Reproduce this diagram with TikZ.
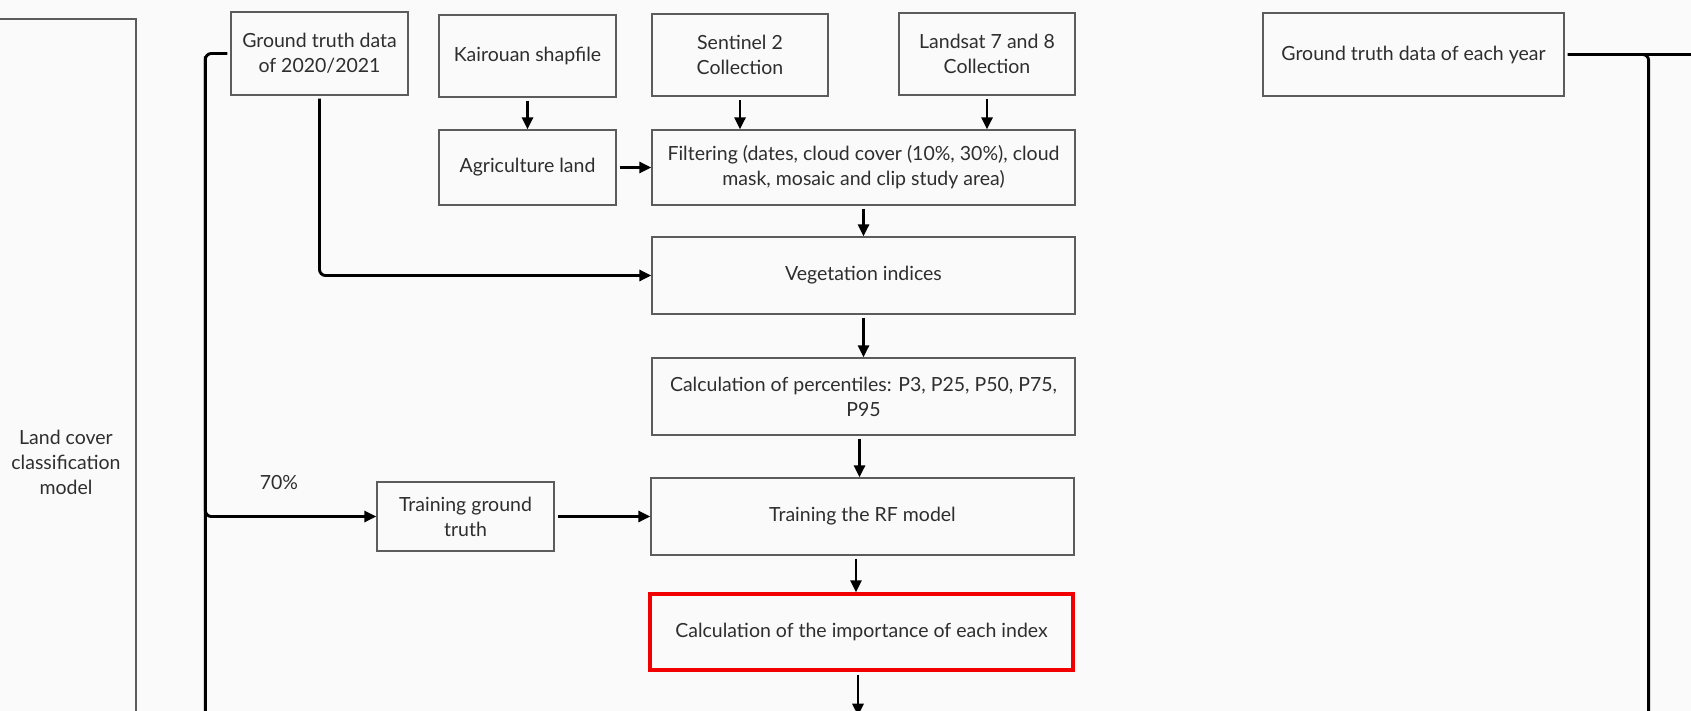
\documentclass[tikz,border=0pt]{standalone}
\usepackage{fontspec}
\setmainfont{Lato}
\usetikzlibrary{arrows.meta}
\usetikzlibrary{positioning}
\usetikzlibrary{calc}
\definecolor{bggray}{HTML}{FAFAFA}
\definecolor{boxgray}{HTML}{5C5C5C}
\definecolor{txtgray}{HTML}{2E2E2E}
\definecolor{hlred}{HTML}{F00000}

\begin{document}
\begin{tikzpicture}[x=1pt,y=-1pt,
    box/.style={draw=boxgray, line width=1.3pt, text=txtgray, align=center, inner sep=0pt,
      font=\fontsize{19.5}{25}\selectfont},
    smallbox/.style={box, minimum width=177pt, minimum height=82pt},
    widebox/.style={box, minimum width=423pt, minimum height=77pt},
    redbox/.style={widebox, draw=hlred, line width=3.4pt},
    flow/.style={line width=2.9pt, rounded corners=6pt, shorten <=3pt,
      -{Triangle[length=12pt,width=11pt]}},
    bus/.style={line width=2.9pt, rounded corners=6pt}]
  \useasboundingbox (0,0) rectangle (1691,711);
  \fill[bggray] (0,0) rectangle (1691,711);
  \clip (0,0) rectangle (1691,711);

  %left column
  \node[box, minimum width=140pt, minimum height=886pt] (model) at (66,462) {Land cover\\classification\\model};

  %inputs
  \node[smallbox, minimum height=83pt] (gtdata) at (319.5,53.5) {Ground truth data\\of 2020/2021};
  \node[smallbox] (shape) at (527.5,56) {Kairouan shapfile};
  \node[smallbox, minimum width=176pt] (sentinel) at (740,55) {Sentinel 2\\Collection};
  \node[smallbox, minimum width=176pt] (landsat) at (987,54) {Landsat 7 and 8\\Collection};
  \node[smallbox, minimum width=301pt, minimum height=83pt] (gtyear) at (1413.5,54.5) {Ground truth data of each year};

  %processing chain
  \node[smallbox, minimum height=75pt] (agri) at (527.5,167.5) {Agriculture land};
  \node[widebox, minimum height=75pt] (filter) at (863.5,167.5) {Filtering (dates, cloud cover (10\%, 30\%), cloud\\mask, mosaic and clip study area)};
  \node[widebox] (vegind) at (863.5,275.5) {Vegetation indices};
  \node[widebox] (pctl) at (863.5,396.5) {Calculation of percentiles: P3, P25, P50, P75,\\P95};
  \node[widebox] (trainrf) at (862.5,516.5) {Training the RF model};
  \node[smallbox, minimum height=69pt] (traingt) at (465.5,516.5) {Training ground\\truth};
  %highlighted step
  \node[redbox, minimum width=423pt, minimum height=76pt] (importance) at (861.5,632) {Calculation of the importance of each index};

  \coordinate (busL) at ($(gtdata.west)+(-25,0)$);
  \coordinate (busLend) at ($(busL)+(0,700)$);
  \coordinate (busR) at ($(gtyear.east)+(84,0)$);
  \coordinate (busRend) at ($(busR)+(0,700)$);
  \coordinate (rightout) at ($(gtyear.east)+(150,0)$);
  \coordinate (down) at ($(importance.south)+(-3.5,44)$);

  %connectors
  \draw[bus] ([xshift=-3pt]gtdata.west) -- (busL) -- (busLend);
  \draw[flow] (busL) |- (traingt.west) node[pos=0.715, above=22pt, text=txtgray, font=\fontsize{19.5}{25}\selectfont] (split) {70\%};
  \draw[flow] (gtdata.south) |- (vegind.west);
  \draw[flow] (shape.south) -- (agri.north);
  \draw[flow] (sentinel.south) -- (sentinel.south |- filter.north);
  \draw[flow] (landsat.south) -- (landsat.south |- filter.north);
  \draw[flow] (agri.east) -- (filter.west);
  \draw[flow] (filter.south) -- (vegind.north);
  \draw[flow] (vegind.south) -- (pctl.north);
  \draw[flow] ([xshift=-4pt]pctl.south) -- ([xshift=-4pt]pctl.south |- trainrf.north);
  \draw[flow] (traingt.east) -- (trainrf.west);
  \draw[flow] ([xshift=-6.5pt]trainrf.south) -- ([xshift=-6.5pt]trainrf.south |- importance.north);
  \draw[flow] ([xshift=-3.5pt]importance.south) -- (down);
  \draw[bus] ([xshift=3pt]gtyear.east) -- (rightout);
  \draw[bus] ([xshift=3pt]gtyear.east) -- (busR) -- (busRend);
\end{tikzpicture}
\end{document}
